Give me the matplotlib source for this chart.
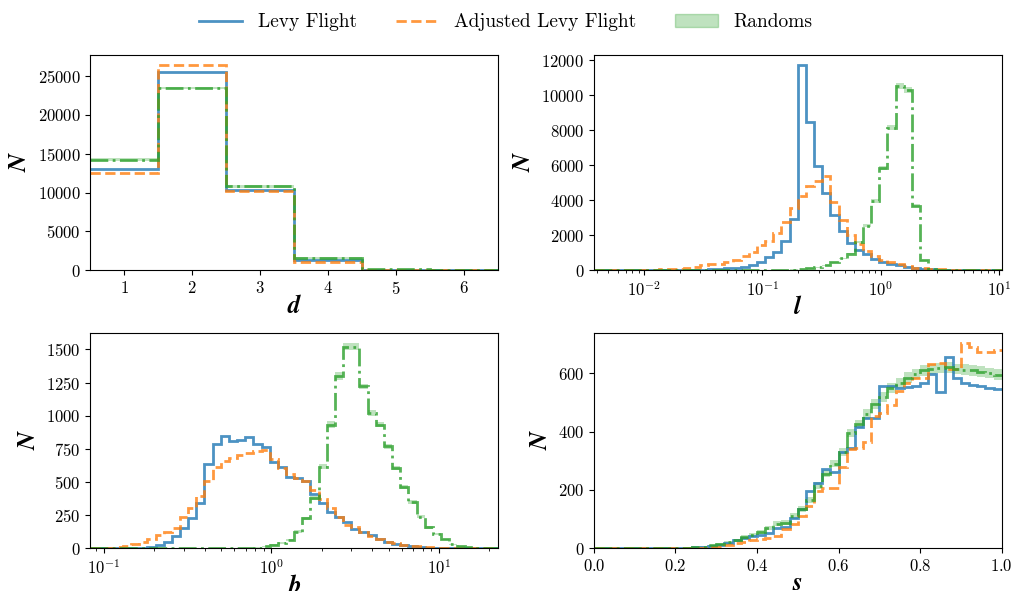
import numpy as np
import matplotlib
matplotlib.use("Agg")
import matplotlib.pyplot as plt
from matplotlib.lines import Line2D
from matplotlib.patches import Patch
from matplotlib.ticker import FuncFormatter, MultipleLocator

plt.rcParams['font.family'] = 'serif'
plt.rcParams['font.serif'] = ['cmr10']
plt.rcParams['mathtext.fontset'] = 'cm'
plt.rcParams['axes.formatter.use_mathtext'] = True
plt.rcParams['axes.unicode_minus'] = False

# ---- data ----
# d : integer bins 1..6
d_edges = [0.5, 1.5, 2.5, 3.5, 4.5, 5.5, 6.5]
d_levy = [13080, 25500, 10370, 1245, 50, 10]
d_adj = [12520, 26400, 10150, 1035, 40, 8]
d_rand = [14240, 23450, 10800, 1560, 130, 30]
d_rand_err = [150, 150, 150, 80, 20, 10]

# l : log-spaced, 50 bins
l_lim = (0.00378, 10.5)
l_levy = [0, 0, 0, 0, 1, 1, 2, 3, 5, 7,
          10, 15, 20, 30, 45, 60, 95, 130, 190, 287,
          475, 726, 1050, 1660, 2900, 11720, 8500, 5980, 4390, 3150,
          2250, 1570, 1180, 900, 640, 480, 360, 280, 190, 120,
          80, 50, 30, 20, 12, 8, 5, 3, 2, 1]
l_adj = [1, 2, 3, 5, 8, 12, 20, 28, 40, 57,
         90, 132, 190, 287, 344, 380, 478, 573, 821, 1050,
         1430, 1680, 2150, 2770, 3530, 4230, 4800, 5100, 5400, 3920,
         2870, 2000, 1470, 1100, 820, 570, 440, 325, 230, 150,
         100, 70, 45, 30, 20, 12, 8, 5, 3, 2]
l_rand = [0, 0, 0, 0, 0, 0, 0, 0, 0, 0,
          0, 0, 0, 0, 0, 0, 0, 0, 0, 1,
          3, 5, 10, 20, 35, 60, 100, 170, 285, 440,
          670, 950, 1620, 2540, 3970, 5860, 8150, 10540, 10300, 3690,
          570, 40, 5, 0, 0, 0, 0, 0, 0, 0]
l_rand_err = [0, 0, 0, 0, 0, 0, 0, 0, 0, 0,
              0, 0, 0, 0, 0, 0, 0, 0, 0, 1,
              2, 3, 4, 6, 8, 10, 14, 18, 25, 30,
              40, 50, 60, 80, 100, 120, 150, 150, 150, 80,
              30, 8, 2, 0, 0, 0, 0, 0, 0, 0]

# b : log-spaced, 50 bins
b_lim = (0.0829, 22.5)
b_levy = [0, 0, 0, 0, 1, 3, 6, 12, 25, 50,
          93, 156, 227, 340, 638, 787, 850, 812, 819, 837,
          789, 764, 650, 613, 537, 528, 511, 408, 340, 277,
          239, 201, 146, 126, 101, 71, 50, 33, 22, 15,
          10, 6, 4, 2, 1, 0, 0, 0, 0, 0]
b_adj = [2, 3, 6, 12, 20, 30, 45, 71, 101, 126,
         151, 234, 307, 398, 504, 617, 660, 681, 706, 718,
         736, 744, 673, 605, 560, 530, 504, 441, 371, 303,
         239, 176, 159, 126, 93, 70, 50, 38, 28, 20,
         14, 9, 6, 4, 2, 1, 0, 0, 0, 0]
b_rand = [0, 0, 0, 0, 0, 0, 0, 0, 0, 0,
          0, 0, 0, 0, 0, 0, 0, 0, 1, 3,
          5, 15, 25, 40, 63, 126, 227, 380, 617, 933,
          1298, 1520, 1520, 1222, 1021, 933, 769, 605, 466, 353,
          239, 159, 108, 68, 30, 15, 8, 4, 2, 1]
b_rand_err = [0, 0, 0, 0, 0, 0, 0, 0, 0, 0,
              0, 0, 0, 0, 0, 0, 0, 0, 1, 2,
              3, 4, 5, 6, 8, 10, 12, 15, 20, 25,
              30, 25, 25, 20, 20, 20, 20, 18, 15, 15,
              12, 10, 8, 6, 5, 3, 2, 1, 1, 0]

# s : linear 0..1, 50 bins
s_lim = (0.0, 1.0)
s_levy = [0, 0, 0, 0, 0, 0, 0, 0, 0, 0,
          1, 2, 3, 5, 8, 11, 17, 28, 36, 42,
          45, 51, 70, 74, 104, 136, 195, 225, 273, 260,
          329, 344, 415, 447, 447, 557, 557, 550, 552, 557,
          566, 598, 534, 656, 585, 565, 560, 555, 548, 545]
s_adj = [0, 0, 0, 0, 0, 0, 0, 0, 0, 0,
         1, 1, 2, 2, 3, 6, 10, 18, 23, 28,
         32, 35, 42, 65, 82, 110, 145, 195, 205, 207,
         280, 341, 345, 366, 454, 464, 490, 540, 568, 582,
         585, 631, 636, 613, 616, 702, 690, 674, 674, 678]
s_rand = [0, 0, 0, 0, 0, 0, 0, 0, 0, 0,
          1, 2, 4, 6, 10, 14, 20, 28, 38, 45,
          55, 70, 85, 88, 110, 135, 165, 215, 255, 290,
          329, 395, 426, 460, 495, 520, 550, 565, 585, 597,
          610, 615, 618, 620, 615, 612, 610, 605, 600, 595]
s_rand_err = [0, 0, 0, 0, 0, 0, 0, 0, 0, 0,
              1, 1, 2, 2, 3, 3, 4, 5, 6, 6,
              7, 8, 8, 9, 10, 10, 11, 12, 12, 13,
              14, 15, 15, 16, 16, 17, 17, 17, 18, 18,
              18, 18, 18, 18, 18, 18, 18, 18, 18, 18]

blue, orange, green = '#1f77b4', '#ff7f0e', '#2ca02c'

fig, axes = plt.subplots(2, 2, figsize=(10.12, 5.91), dpi=100)
fig.subplots_adjust(left=0.0892, right=0.9898, top=0.9069, bottom=0.0722,
                    wspace=0.235, hspace=0.293)

def draw(ax, edges, levy, adj, rand, err, xlabel, ystep, log=False):
    levy, adj, rand, err = map(np.asarray, (levy, adj, rand, err))
    ax.stairs(rand + err, edges, baseline=rand - err, fill=True,
              color=green, alpha=0.3, lw=0)
    ax.stairs(levy, edges, baseline=None, color=blue, alpha=0.8, lw=2)
    ax.stairs(adj, edges, baseline=None, color=orange, alpha=0.8, lw=2,
              linestyle='--')
    ax.stairs(rand, edges, baseline=None, color=green, alpha=0.8, lw=2,
              linestyle='-.')
    if log:
        ax.set_xscale('log')
    ax.set_xlim(edges[0], edges[-1])
    top = max(np.max(levy), np.max(adj), np.max(rand + err)) * 1.05
    ax.set_ylim(0, top)
    ax.set_xlabel(xlabel, fontfamily='STIXGeneral', fontstyle='italic',
                  fontweight='bold', fontsize=18, labelpad=-2)
    ax.set_ylabel('N', fontfamily='STIXGeneral', fontstyle='italic',
                  fontweight='bold', fontsize=18, labelpad=4)
    ax.yaxis.set_major_locator(MultipleLocator(ystep))
    ax.yaxis.set_major_formatter(FuncFormatter(lambda v, p: r'$\mathbf{%d}$' % v))
    ax.tick_params(labelsize=12)

n = len(l_levy)
l_edges = np.geomspace(l_lim[0], l_lim[1], n + 1)
b_edges = np.geomspace(b_lim[0], b_lim[1], len(b_levy) + 1)
s_edges = np.linspace(s_lim[0], s_lim[1], len(s_levy) + 1)

draw(axes[0, 0], np.array(d_edges), d_levy, d_adj, d_rand, d_rand_err, 'd', 5000)
axes[0, 0].xaxis.set_major_formatter(FuncFormatter(lambda v, p: r'$\mathbf{%d}$' % v))
axes[0, 0].set_xticks([1, 2, 3, 4, 5, 6])
draw(axes[0, 1], l_edges, l_levy, l_adj, l_rand, l_rand_err, 'l', 2000, log=True)
draw(axes[1, 0], b_edges, b_levy, b_adj, b_rand, b_rand_err, 'b', 250, log=True)
draw(axes[1, 1], s_edges, s_levy, s_adj, s_rand, s_rand_err, 's', 200)
axes[1, 1].xaxis.set_major_locator(MultipleLocator(0.2))
axes[1, 1].xaxis.set_major_formatter(FuncFormatter(lambda v, p: r'$\mathbf{%.1f}$' % v))

handles = [Line2D([], [], color=blue, alpha=0.8, lw=2),
           Line2D([], [], color=orange, alpha=0.8, lw=2, linestyle='--'),
           Patch(facecolor=green, edgecolor=green, alpha=0.3)]
fig.legend(handles, ['Levy Flight', 'Adjusted Levy Flight', 'Randoms'],
           loc='upper center', bbox_to_anchor=(0.5, 1.007), ncol=3,
           frameon=False, fontsize=14, handlelength=2.2)

fig.savefig('out.png', dpi=100)
